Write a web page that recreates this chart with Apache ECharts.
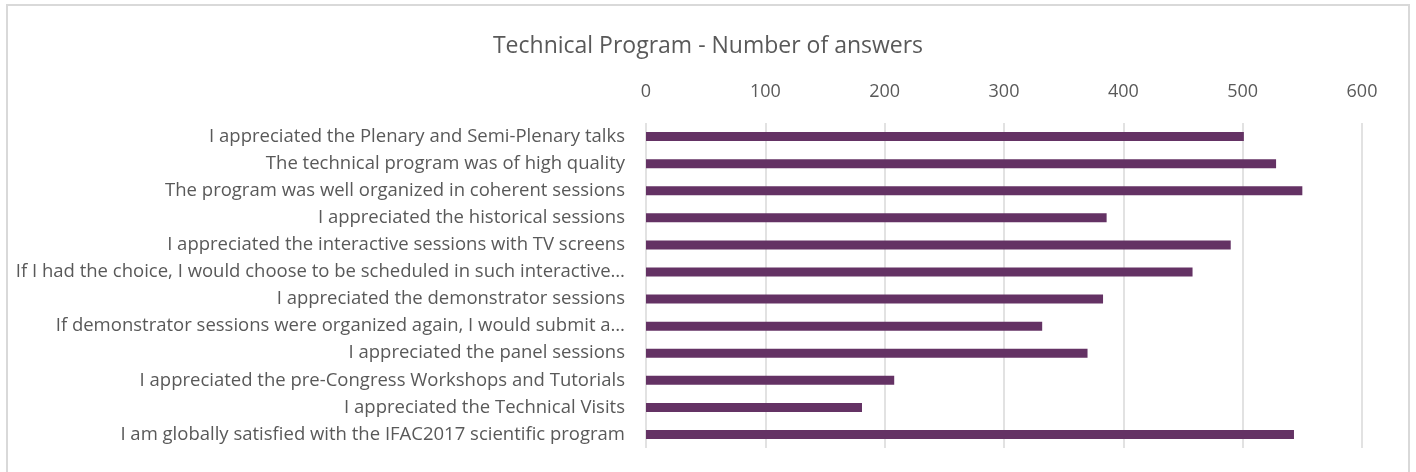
<!DOCTYPE html>
<html>
<head>
<meta charset="utf-8">
<script src="https://cdn.jsdelivr.net/npm/echarts@6/dist/echarts.min.js"></script>
<style>
  html, body { margin: 0; padding: 0; background: #ffffff; }
  #chart { width: 1416px; height: 472px; }
</style>
</head>
<body>
<div id="chart"></div>
<script>
// Survey statements, listed top to bottom
const categories = [
  'I appreciated the Plenary and Semi-Plenary talks',
  'The technical program was of high quality',
  'The program was well organized in coherent sessions',
  'I appreciated the historical sessions',
  'I appreciated the interactive sessions with TV screens',
  'If I had the choice, I would choose to be scheduled in such interactive…',
  'I appreciated the demonstrator sessions',
  'If demonstrator sessions were organized again, I would submit a…',
  'I appreciated the panel sessions',
  'I appreciated the pre-Congress Workshops and Tutorials',
  'I appreciated the Technical Visits',
  'I am globally satisfied with the IFAC2017 scientific program'
];

// Number of answers per statement
const answers = [501, 528, 550, 386, 490, 458, 383, 332, 370, 208, 181, 543];

const titleText = 'Technical Program - Number of answers';

const textColor = '#595959';
const gridColor = '#d9d9d9';
const barColor = '#643264';
const fontFamily = '"Open Sans", "Noto Sans", sans-serif';

const chart = echarts.init(document.getElementById('chart'));

chart.setOption({
  animation: false,
  backgroundColor: '#ffffff',
  graphic: [{
    type: 'rect',
    shape: { x: 7, y: 5, width: 1402, height: 490 },
    style: { fill: 'none', stroke: gridColor, lineWidth: 2 },
    silent: true
  }],
  title: {
    text: titleText,
    left: 'center',
    top: 30,
    textStyle: {
      color: textColor,
      fontSize: 23,
      fontWeight: 'normal',
      fontFamily: fontFamily
    }
  },
  grid: {
    left: 646,
    right: 54,
    top: 123,
    bottom: 24,
    containLabel: false,
    outerBoundsMode: 'none'
  },
  xAxis: {
    type: 'value',
    position: 'top',
    min: 0,
    max: 600,
    interval: 100,
    axisLine: { show: false },
    axisTick: { show: false },
    axisLabel: {
      color: textColor,
      fontSize: 18,
      fontFamily: fontFamily,
      margin: 22
    },
    splitLine: { show: true, lineStyle: { color: gridColor, width: 1.5 } }
  },
  yAxis: {
    type: 'category',
    inverse: true,
    data: categories,
    axisLine: { show: false },
    axisTick: { show: false },
    axisLabel: {
      color: textColor,
      fontSize: 18.5,
      fontFamily: fontFamily,
      margin: 21
    }
  },
  series: [{
    type: 'bar',
    data: answers,
    barWidth: 9,
    itemStyle: { color: barColor },
    silent: true
  }]
});
</script>
</body>
</html>
